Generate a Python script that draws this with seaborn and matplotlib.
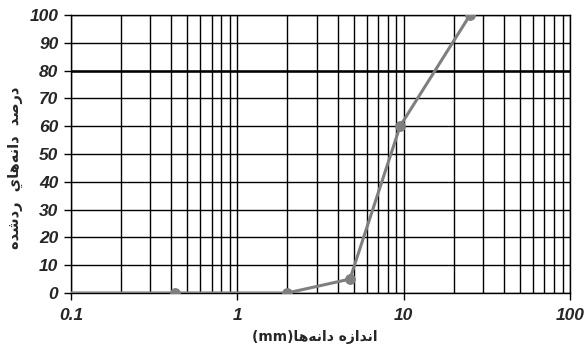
import matplotlib
matplotlib.use("Agg")
import matplotlib.pyplot as plt
import seaborn as sns
import pandas as pd
from matplotlib.ticker import LogLocator, FixedLocator, NullFormatter

# Sieve sizes (mm) and cumulative passing (%)
sizes_mm = [0.075, 0.425, 2.0, 4.75, 9.5, 25.0]
passing_pct = [0, 0, 0, 5, 60, 100]

y_ticks = [0, 10, 20, 30, 40, 50, 60, 70, 80, 90, 100]
x_major = [0.1, 1, 10, 100]
x_major_labels = ["0.1", "1", "10", "100"]

# Persian labels written in visual order with presentation forms
x_label = "(mm)" + "\ufe8e\ufeeb\ufeea\ufee7\ufe8d\ufea9" + " " + "\ufee9\ufeaf\ufe8d\ufeaa\ufee7\ufe8d"
y_label = ("\ufee9\ufeaa\ufeb7\ufea9\ufead" + "  "
           + "\ufef1\ufe8e\ufeeb\ufeea\ufee7\ufe8d\ufea9" + "  "
           + "\ufeaa\ufebb\ufead\ufea9")

df = pd.DataFrame({"size": sizes_mm, "passing": passing_pct})

sns.set_theme(style="white")
plt.rcParams["font.family"] = ["Liberation Sans", "DejaVu Sans"]

fig = plt.figure(figsize=(5.86, 3.5), dpi=100)
ax = fig.add_axes([0.121, 0.163, 0.852, 0.794])

ax.set_xscale("log")
ax.set_xlim(0.1, 100)
ax.set_ylim(0, 100)

# grid: horizontal every 10 %, vertical on every log subdivision
ax.yaxis.set_major_locator(FixedLocator(y_ticks))
ax.xaxis.set_major_locator(FixedLocator(x_major))
ax.xaxis.set_minor_locator(LogLocator(base=10, subs=range(2, 10)))
ax.xaxis.set_minor_formatter(NullFormatter())
ax.grid(True, which="major", axis="both", color="black", linewidth=1.0)
ax.grid(True, which="minor", axis="x", color="black", linewidth=1.0)
ax.axhline(80, color="black", linewidth=1.8, zorder=1)
ax.set_axisbelow(True)

sns.lineplot(data=df, x="size", y="passing", ax=ax, color="#7f7f7f",
             linewidth=2.2, marker="o", markersize=7,
             markeredgecolor="#7f7f7f", markerfacecolor="#7f7f7f", zorder=3)

ax.set_xticklabels(x_major_labels)
ax.set_yticklabels([str(v) for v in y_ticks])
for lab in ax.get_xticklabels() + ax.get_yticklabels():
    lab.set_fontweight("bold")
    lab.set_fontstyle("italic")
    lab.set_fontsize(12.5)

ax.tick_params(axis="y", which="major", direction="out", length=5, width=1,
               color="black", left=True, pad=4)
ax.tick_params(axis="x", which="major", direction="out", length=5, width=1,
               color="black", bottom=True, pad=6)
ax.tick_params(axis="x", which="minor", length=0)

for side in ["left", "bottom", "right", "top"]:
    ax.spines[side].set_visible(True)
    ax.spines[side].set_color("black")
    ax.spines[side].set_linewidth(1.0)

ax.set_xlabel(x_label, fontsize=10, fontweight="bold",
              family=["DejaVu Sans"])
ax.set_ylabel(y_label, fontsize=10.5, fontweight="bold",
              family=["DejaVu Sans"])
ax.xaxis.set_label_coords(0.489, -0.132)
ax.yaxis.set_label_coords(-0.112, 0.45)
ax.yaxis.label.set_verticalalignment("center")

fig.savefig("out.png", dpi=100)
